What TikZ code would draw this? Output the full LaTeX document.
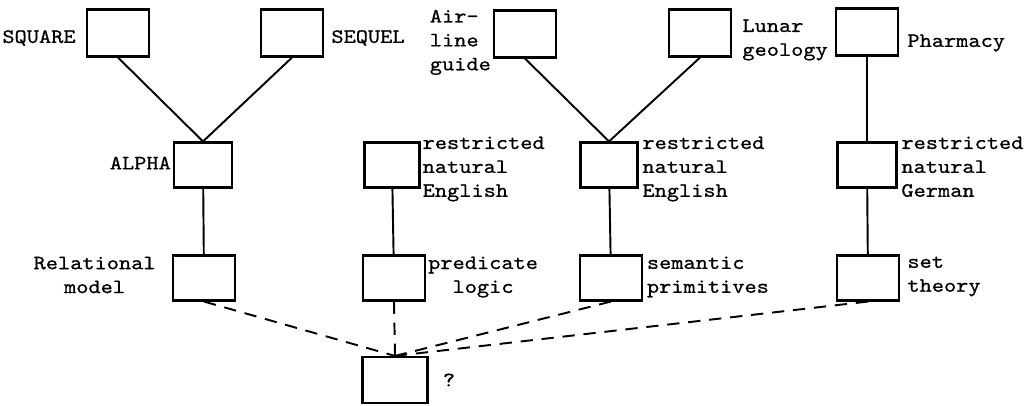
\documentclass[tikz,border=0pt]{standalone}
\usepackage{fontspec}
\newfontfamily\typedfont{lmmono10-regular}[Extension=.otf, FakeStretch=1.14, FakeBold=0.7]
\usepackage{tikz}
\usetikzlibrary{positioning}
\newcommand{\typed}{\typedfont\fontsize{11.6}{13.6}\selectfont}

\begin{document}
\begin{tikzpicture}[
  blk/.style={draw, line width=1.2pt, minimum width=1.24cm, minimum height=0.9cm, inner sep=0pt},
  lbl/.style={font=\typed, inner sep=0pt, align=left},
  link/.style={line width=1.1pt},
  guess/.style={line width=1.1pt, dash pattern=on 7pt off 5pt},
]
\path[fill=white, use as bounding box] (0,0) rectangle (20.7,8.12);

% ── Top row: query languages / applications ─────────────────────────────────
\node[blk, minimum height=0.94cm] (sq)  at ( 2.36,7.46) {};
\node[blk, minimum height=0.94cm] (seq) at ( 5.84,7.46) {};
\node[blk, minimum height=0.94cm] (air) at (10.50,7.44) {};
\node[blk, minimum height=0.94cm] (lun) at (14.00,7.46) {};
\node[blk, minimum height=0.94cm] (pha) at (17.34,7.48) {};

% ── Middle row: front-end languages ──────────────────────────────────────────
\node[blk, minimum width=1.16cm] (alpha) at ( 4.06,4.82) {};
\node[blk, minimum width=1.10cm] (engl)  at ( 7.84,4.82) {};
\node[blk, minimum width=1.14cm] (engm)  at (12.18,4.82) {};
\node[blk, minimum width=1.18cm] (ger)   at (17.34,4.82) {};

% ── Bottom row: underlying formalisms ────────────────────────────────────────
\node[blk] (rel)  at ( 4.08,2.56) {};
\node[blk] (pred) at ( 7.88,2.56) {};
\node[blk] (sem)  at (12.22,2.56) {};
\node[blk] (set)  at (17.36,2.56) {};
\node[blk, minimum width=1.3cm, minimum height=0.92cm] (q) at (7.90,0.52) {};

% ── Labels ───────────────────────────────────────────────────────────────────
\node[lbl, left=0.2cm of sq, yshift=-0.1cm] (sqlbl) {SQUARE};
\node[lbl, right=0.14cm of seq, yshift=-0.1cm] (seqlbl) {SEQUEL};
\node[lbl, anchor=north east] (airlbl) at ([xshift=-1pt]air.north west) {Air-\\line\\guide};
\node[lbl, anchor=west] (lunlbl) at ([xshift=0.2cm,yshift=-0.14cm]lun.east) {Lunar\\geology};
\node[lbl, right=0.16cm of pha, yshift=-0.22cm] (phalbl) {Pharmacy};

\node[lbl, left=1pt of alpha, yshift=0.04cm] (alphalbl) {ALPHA};
\node[lbl, anchor=north west] (engllbl) at ([xshift=1pt,yshift=3pt]engl.north east) {restricted\\natural\\English};
\node[lbl, anchor=north west] (engmlbl) at ([xshift=2pt,yshift=3pt]engm.north east) {restricted\\natural\\English};
\node[lbl, anchor=north west] (gerlbl)  at ([xshift=2pt,yshift=3pt]ger.north east) {restricted\\natural\\German};

\node[lbl, align=center, anchor=east] (rellbl) at ([xshift=-0.32cm,yshift=0.06cm]rel.west) {Relational\\model};
\node[lbl, align=center, anchor=north west] (predlbl) at ([xshift=1pt,yshift=-1pt]pred.north east) {predicate\\logic};
\node[lbl, anchor=north west] (semlbl) at ([xshift=2pt,yshift=-1pt]sem.north east) {semantic\\primitives};
\node[lbl, anchor=north west] (setlbl) at ([xshift=0.14cm,yshift=-1pt]set.north east) {set\\theory};
\node[lbl, right=0.28cm of q] (qlbl) {?};

% ── Connectors ───────────────────────────────────────────────────────────────
\draw[link] (sq.south) -- (alpha.north);
\draw[link] (seq.south) -- (alpha.north);
\draw[link] (air.south) -- (engm.north);
\draw[link] (lun.south) -- (engm.north);
\draw[link] (pha) -- (ger);
\draw[link] (alpha) -- (rel);
\draw[link] (engl) -- (pred);
\draw[link] (engm) -- (sem);
\draw[link] (ger) -- (set);

\foreach \n in {rel,pred,sem,set}{ \draw[guess] (\n.south) -- (q.north); }

\end{tikzpicture}
\end{document}
